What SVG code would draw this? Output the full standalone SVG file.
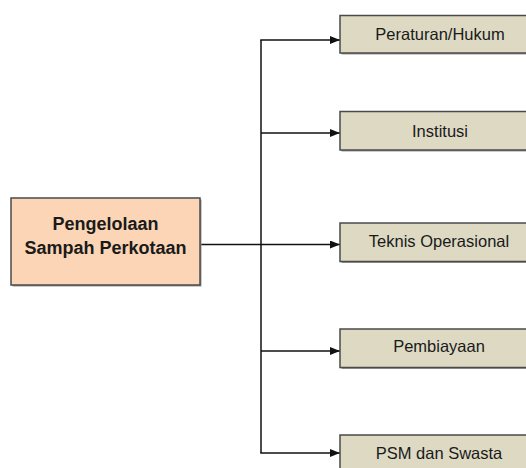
<svg xmlns="http://www.w3.org/2000/svg" width="526" height="468" viewBox="0 0 526 468">
<defs>
<marker id="arr" markerWidth="10" markerHeight="8" refX="10" refY="4" orient="auto" markerUnits="userSpaceOnUse">
<path d="M0,0 L10,4 L0,8 Z" fill="#111"/>
</marker>
</defs>
<style>
.shadow{fill:#9a9a9a}
.main{fill:#FBD5B5;stroke:#4a4a4a;stroke-width:1.5}
.sub{fill:#DDD9C3;stroke:#4a4a4a;stroke-width:1.5}
.t{font-family:"Liberation Sans",Arial,sans-serif;fill:#1a1a1a;text-anchor:middle}
.tb{font-size:18px;font-weight:bold}
.ts{font-size:16.5px}
.c{fill:none;stroke:#111;stroke-width:1.5}
</style>
<rect width="526" height="468" fill="#fff"/>
<g id="connectors">
<line class="c" x1="201" y1="244.5" x2="340" y2="244.5" marker-end="url(#arr)"/>
<line class="c" x1="261" y1="40" x2="261" y2="453"/>
<line class="c" x1="260.25" y1="40" x2="340" y2="40" marker-end="url(#arr)"/>
<line class="c" x1="261" y1="133" x2="340" y2="133" marker-end="url(#arr)"/>
<line class="c" x1="261" y1="351" x2="340" y2="351" marker-end="url(#arr)"/>
<line class="c" x1="260.25" y1="453" x2="340" y2="453" marker-end="url(#arr)"/>
</g>
<g id="main">
<rect class="shadow" x="12.5" y="199.5" width="189" height="87"/>
<rect class="main" x="11" y="198" width="189" height="87"/>
<text class="t tb" x="105.5" y="230">Pengelolaan</text>
<text class="t tb" x="105.5" y="254">Sampah Perkotaan</text>
</g>
<g id="n1">
<rect class="shadow" x="341.5" y="17" width="198" height="37.5"/>
<rect class="sub" x="340" y="15.5" width="198" height="37.5"/>
<text class="t ts" x="440" y="39.5">Peraturan/Hukum</text>
</g>
<g id="n2">
<rect class="shadow" x="341.5" y="113" width="198" height="38.5"/>
<rect class="sub" x="340" y="111.5" width="198" height="38.5"/>
<text class="t ts" x="440" y="137">Institusi</text>
</g>
<g id="n3">
<rect class="shadow" x="341.5" y="224.5" width="198" height="38.5"/>
<rect class="sub" x="340" y="223" width="198" height="38.5"/>
<text class="t ts" x="439" y="247">Teknis Operasional</text>
</g>
<g id="n4">
<rect class="shadow" x="341.5" y="330.5" width="198" height="38.5"/>
<rect class="sub" x="340" y="329" width="198" height="38.5"/>
<text class="t ts" x="439" y="352">Pembiayaan</text>
</g>
<g id="n5">
<rect class="shadow" x="341.5" y="436.5" width="198" height="38.5"/>
<rect class="sub" x="340" y="435" width="198" height="38.5"/>
<text class="t ts" x="439" y="458.5">PSM dan Swasta</text>
</g>
</svg>
